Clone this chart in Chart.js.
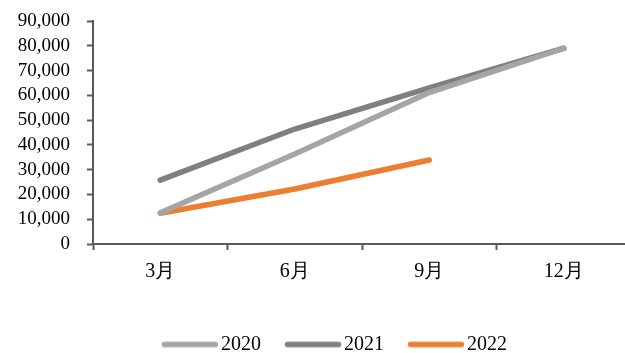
<!DOCTYPE html>
<html>
<head>
<meta charset="utf-8">
<script src="https://cdn.jsdelivr.net/npm/chart.js@4.4.1/dist/chart.umd.min.js"></script>
<style>
  html, body { margin: 0; padding: 0; background: #ffffff; overflow: hidden; }
  #wrap { width: 631px; height: 353px; }
</style>
</head>
<body>
<div id="wrap"><canvas id="c" width="631" height="353"></canvas></div>
<script>
// Quarterly cumulative figures by year
const categories = ['3月', '6月', '9月', '12月'];
const series2020 = [12600, 36300, 61100, 79000];
const series2021 = [25800, 46400, 63000, 79000];
const series2022 = [12400, 22200, 33900];
const yTicks = { min: 0, max: 90000, step: 10000 };

const FONT = "'Liberation Serif', 'Times New Roman', serif";
const AXIS = '#595959';
const LINE_W = 5.5;

// legend swatch: a long round-capped stroke drawn on a small canvas
function swatch(color) {
  const cv = document.createElement('canvas');
  cv.width = 62; cv.height = 8;
  const g = cv.getContext('2d');
  g.strokeStyle = color;
  g.lineWidth = LINE_W;
  g.lineCap = 'round';
  g.beginPath();
  g.moveTo(7.5, 4);
  g.lineTo(58.5, 4);
  g.stroke();
  return cv;
}

const lineSet = (label, data, color) => ({
  label, data,
  borderColor: color,
  backgroundColor: color,
  borderWidth: LINE_W,
  borderCapStyle: 'round',
  borderJoinStyle: 'round',
  pointRadius: 0,
  pointHoverRadius: 0,
  pointStyle: swatch(color),
  tension: 0,
  fill: false
});

// nudges the legend block so it sits centred under the plot
const legendOffset = {
  id: 'legendOffset',
  afterLayout(chart, args, opts) {
    const lg = chart.legend;
    if (!lg) return;
    lg.left += opts.dx; lg.right += opts.dx;
    lg.top += opts.dy; lg.bottom += opts.dy;
  }
};

new Chart(document.getElementById('c'), {
  type: 'line',
  data: {
    labels: categories,
    datasets: [
      lineSet('2020', series2020, '#A5A5A5'),
      lineSet('2021', series2021, '#7F7F7F'),
      lineSet('2022', series2022, '#ED7D31')
    ]
  },
  plugins: [legendOffset],
  options: {
    responsive: false,
    animation: false,
    events: [],
    layout: { padding: { left: 0, right: 0, top: 21, bottom: 0 } },
    plugins: {
      tooltip: { enabled: false },
      legendOffset: { dx: 20.5, dy: 11.5 },
      legend: {
        position: 'bottom',
        labels: {
          usePointStyle: true,
          pointStyleWidth: 46,
          padding: 27,
          color: '#000000',
          font: { family: FONT, size: 20 }
        }
      }
    },
    scales: {
      x: {
        offset: true,
        afterFit: (s) => { s.height = 52; },
        border: { display: true, color: AXIS, width: 2 },
        grid: { display: true, offset: true, drawOnChartArea: false, drawTicks: true, tickLength: 6, color: AXIS, tickWidth: 2 },
        ticks: { color: '#000000', padding: 10, font: { family: FONT, size: 20 }, maxRotation: 0 }
      },
      y: {
        min: yTicks.min,
        max: yTicks.max,
        afterFit: (s) => { s.width = 93; s.paddingTop = 0; s.paddingBottom = 0; },
        border: { display: true, color: AXIS, width: 2 },
        grid: { display: true, drawOnChartArea: false, drawTicks: true, tickLength: 6, color: AXIS, tickWidth: 2 },
        ticks: {
          stepSize: yTicks.step,
          autoSkip: false,
          color: '#000000',
          padding: 17,
          font: { family: FONT, size: 19 },
          callback: (v) => v.toLocaleString('en-US')
        }
      }
    }
  }
});
</script>
</body>
</html>
